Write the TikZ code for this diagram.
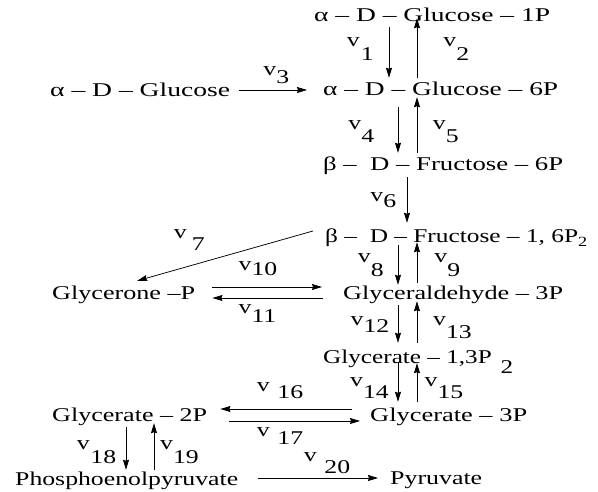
\documentclass[tikz,border=0pt]{standalone}
\usepackage{graphicx}
\usepackage{fontspec}
\setmainfont{Liberation Serif}[FakeStretch=1.32]
\usetikzlibrary{arrows.meta}
\newcommand{\vlab}[3]{v\hspace{#1pt}\raisebox{-#2pt}{#3}}
\newcommand{\fitw}[2]{\resizebox{#1pt}{\height}{#2}}
\begin{document}
\begin{tikzpicture}[x=1pt,y=-1pt,
  every node/.style={inner sep=0pt, anchor=base west, font=\fontsize{19.5}{22}\selectfont},
  sp/.style={text height=12pt, text depth=4pt},
  arr/.style={-{Stealth[length=10pt,width=6pt,inset=1pt]}, line width=0.75pt}]
\useasboundingbox (0,0) rectangle (598,492);
% species
\node[sp] (g1p) at (314,22) {\fitw{236}{α – D – Glucose – 1P}};
\node[sp] (glc) at (50,97) {\fitw{180}{α – D – Glucose}};
\node[sp] (g6p) at (323,96) {\fitw{235}{α – D – Glucose – 6P}};
\node[sp] (f6p) at (323,171) {\fitw{240}{β – \ D – Fructose – 6P}};
\node[sp] (f16) at (325,243) {\fitw{262}{β – \ D – Fructose – 1, 6P\raisebox{-4pt}{\fontsize{14}{14}\selectfont 2}}};
\node[sp] (gly) at (52,299) {\fitw{143}{Glycerone –P}};
\node[sp] (ga3p) at (343,299) {\fitw{220}{Glyceraldehyde – 3P}};
\node[sp] (g13) at (323,363) {\fitw{190}{Glycerate – 1,3P\hspace{9pt}\raisebox{-10pt}{2}}};
\node[sp] (g3p) at (370,421) {\fitw{157}{Glycerate – 3P}};
\node[sp] (g2p) at (52,421) {\fitw{155}{Glycerate – 2P}};
\node[sp] (pep) at (15,485) {\fitw{223}{Phosphoenolpyruvate}};
\node[sp] (pyr) at (390,484) {\fitw{92}{Pyruvate}};
% x positions of vertical connectors
\coordinate (xa) at (389,0);
\coordinate (xb) at (417,0);
\coordinate (xc) at (398,0);
\coordinate (xd) at (407,0);
\coordinate (xe) at (126,0);
\coordinate (xf) at (154,0);
% vertical reactions
\draw[arr, shorten <=1pt, shorten >=6pt] (g1p.south -| xa) -- (g6p.north -| xa);
\draw[arr, shorten <=6pt, shorten >=-8pt] (g6p.north -| xb) -- (g1p.south -| xb);
\draw[arr, shorten <=7pt, shorten >=6pt] (g6p.south -| xc) -- (f6p.north -| xc);
\draw[arr, shorten <=6pt, shorten >=-3pt] (f6p.north -| xb) -- (g6p.south -| xb);
\draw[arr, shorten <=2pt, shorten >=8pt] (f6p.south -| xd) -- (f16.north -| xd);
\draw[arr, shorten <=-2pt, shorten >=2pt] (f16.south -| xc) -- (ga3p.north -| xc);
\draw[arr, shorten <=4pt, shorten >=-5pt] (ga3p.north -| xb) -- (f16.south -| xb);
\draw[arr, shorten <=2pt, shorten >=8pt] (ga3p.south -| xc) -- (g13.north -| xc);
\draw[arr, shorten <=8pt, shorten >=-2pt] (g13.north -| xb) -- (ga3p.south -| xb);
\draw[arr, shorten <=-5pt, shorten >=7pt] (g13.south -| xc) -- (g3p.north -| xc);
\draw[arr, shorten <=7pt, shorten >=-4pt] (g3p.north -| xb) -- (g13.south -| xb);
\draw[arr, shorten <=2pt, shorten >=3pt] (g2p.south -| xe) -- (pep.north -| xe);
\draw[arr, shorten <=3pt, shorten >=-2pt] (pep.north -| xf) -- (g2p.south -| xf);
% horizontal / oblique reactions
\draw[arr, shorten <=9pt, shorten >=16pt] ([yshift=3pt]glc.east) -- ([yshift=2pt]g6p.west);
\draw[arr] ([xshift=-12pt,yshift=8pt]f16.west) -- ([xshift=13.5pt,yshift=6pt]gly.north);
\draw[arr, shorten <=17pt, shorten >=21pt] ([yshift=8pt]gly.east) -- ([yshift=8pt]ga3p.west);
\draw[arr, shorten <=20pt, shorten >=17pt] ([yshift=-3pt]ga3p.west) -- ([yshift=-3pt]gly.east);
\draw[arr, shorten <=18pt, shorten >=13pt] ([yshift=8pt]g3p.west) -- ([yshift=8pt]g2p.east);
\draw[arr, shorten <=22pt, shorten >=10pt] ([yshift=-4pt]g2p.east) -- ([yshift=-4pt]g3p.west);
\draw[arr, shorten <=20pt, shorten >=12pt] ([yshift=3pt]pep.east) -- ([yshift=2pt]pyr.west);
% rate labels
\node (l1) at (346.6,47) {\vlab{1.2}{14}{1}};
\node (l2) at (443.2,47) {\vlab{0}{14}{2}};
\node (l3) at (263.2,76) {\vlab{0}{8}{3}};
\node (l4) at (348.2,130) {\vlab{0}{13}{4}};
\node (l5) at (432.7,130) {\vlab{0}{13}{5}};
\node (l6) at (370.2,202) {\vlab{0}{6}{6}};
\node (l7) at (173.6,239) {\vlab{5.2}{12}{7}};
\node (l8) at (357.6,262) {\vlab{0.2}{14}{8}};
\node (l9) at (434.2,262) {\vlab{0}{14}{9}};
\node (l10) at (238.5,271) {\vlab{0}{5}{10}};
\node (l11) at (238.5,314) {\vlab{0}{9}{11}};
\node (l12) at (350.5,326) {\vlab{0}{7}{12}};
\node (l13) at (433,326) {\vlab{0}{13}{13}};
\node (l14) at (350,386) {\vlab{0}{12}{14}};
\node (l15) at (424.5,386) {\vlab{0}{12}{15}};
\node (l16) at (256.6,391) {\vlab{7.8}{7}{16}};
\node (l17) at (256.6,436) {\vlab{7.8}{8}{17}};
\node (l18) at (76.6,449) {\vlab{0.8}{14}{18}};
\node (l19) at (160,449) {\vlab{0}{14}{19}};
\node (l20) at (303.6,461) {\vlab{7.8}{12}{20}};
\end{tikzpicture}
\end{document}
